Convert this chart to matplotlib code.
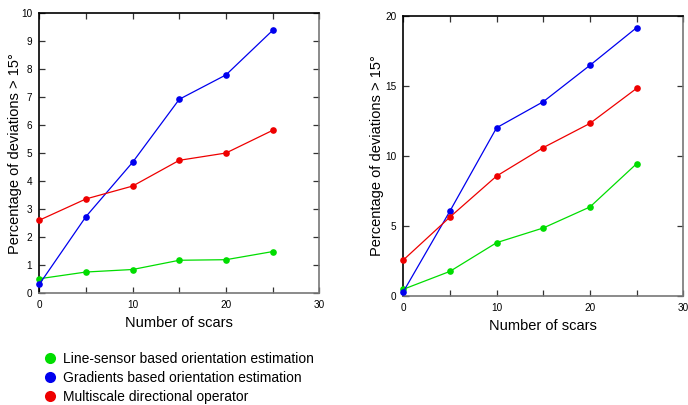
import matplotlib
matplotlib.use("Agg")
import matplotlib.pyplot as plt
from matplotlib.lines import Line2D

plt.rcParams['font.family'] = ['Liberation Sans', 'DejaVu Sans']

scars = [0, 5, 10, 15, 20, 25]

left_line_sensor = [0.52, 0.76, 0.85, 1.18, 1.20, 1.49]
left_gradients = [0.32, 2.74, 4.68, 6.93, 7.80, 9.39]
left_multiscale = [2.61, 3.37, 3.83, 4.75, 5.01, 5.82]

right_line_sensor = [0.48, 1.76, 3.81, 4.86, 6.36, 9.45]
right_gradients = [0.30, 6.07, 12.02, 13.88, 16.48, 19.17]
right_multiscale = [2.57, 5.64, 8.57, 10.60, 12.33, 14.83]

labels = ["Line-sensor based orientation estimation",
          "Gradients based orientation estimation",
          "Multiscale directional operator"]
colors = ["#00dd00", "#0000ee", "#ee0000"]

xlabel = "Number of scars"
ylabel = "Percentage of deviations > 15°"

fig = plt.figure(figsize=(6.88, 4.05), dpi=100)
W, H = 688, 405

def make_ax(l, r, t, b):
    return fig.add_axes([l / W, 1 - b / H, (r - l) / W, (b - t) / H])

ax1 = make_ax(39.3, 319.3, 13.3, 293.3)
ax2 = make_ax(403.3, 683.3, 16, 296)

def style(ax, series, ymax, ystep, ypad):
    for s, c in zip(series, colors):
        ax.plot(scars, s, color=c, lw=0.9, marker='o', ms=4.8,
                markeredgewidth=0, clip_on=False, zorder=3)
    ax.set_xlim(0, 30)
    ax.set_ylim(0, ymax)
    ax.set_xticks(range(0, 31, 5))
    ax.set_xticklabels([str(v) if v % 10 == 0 else "" for v in range(0, 31, 5)])
    ax.set_yticks(range(0, ymax + 1, ystep))
    ax.tick_params(direction='in', length=4, width=0.9, labelsize=7.2,
                   top=True, right=True, pad=5, color='#333333')
    ax.spines['left'].set_color('black')
    ax.spines['top'].set_color('black')
    ax.spines['right'].set_color('#777777')
    ax.spines['bottom'].set_color('#777777')
    for sp in ax.spines.values():
        sp.set_linewidth(1.2)
    ax.set_xlabel(xlabel, fontsize=10.5, labelpad=4)
    ax.set_ylabel(ylabel, fontsize=10.5, labelpad=ypad)

style(ax1, [left_line_sensor, left_gradients, left_multiscale], 10, 1, -1.0)
style(ax2, [right_line_sensor, right_gradients, right_multiscale], 20, 5, 0.5)

handles = [Line2D([], [], ls='none', marker='o', color=c, ms=8, markeredgewidth=0)
           for c in colors]
fig.legend(handles, labels, loc='upper left', bbox_to_anchor=(37 / W, 1 - 346 / H),
           frameon=False, fontsize=10, handletextpad=0.45, labelspacing=0.38,
           borderaxespad=0, handlelength=1.0)

fig.savefig("out.png", dpi=100)
